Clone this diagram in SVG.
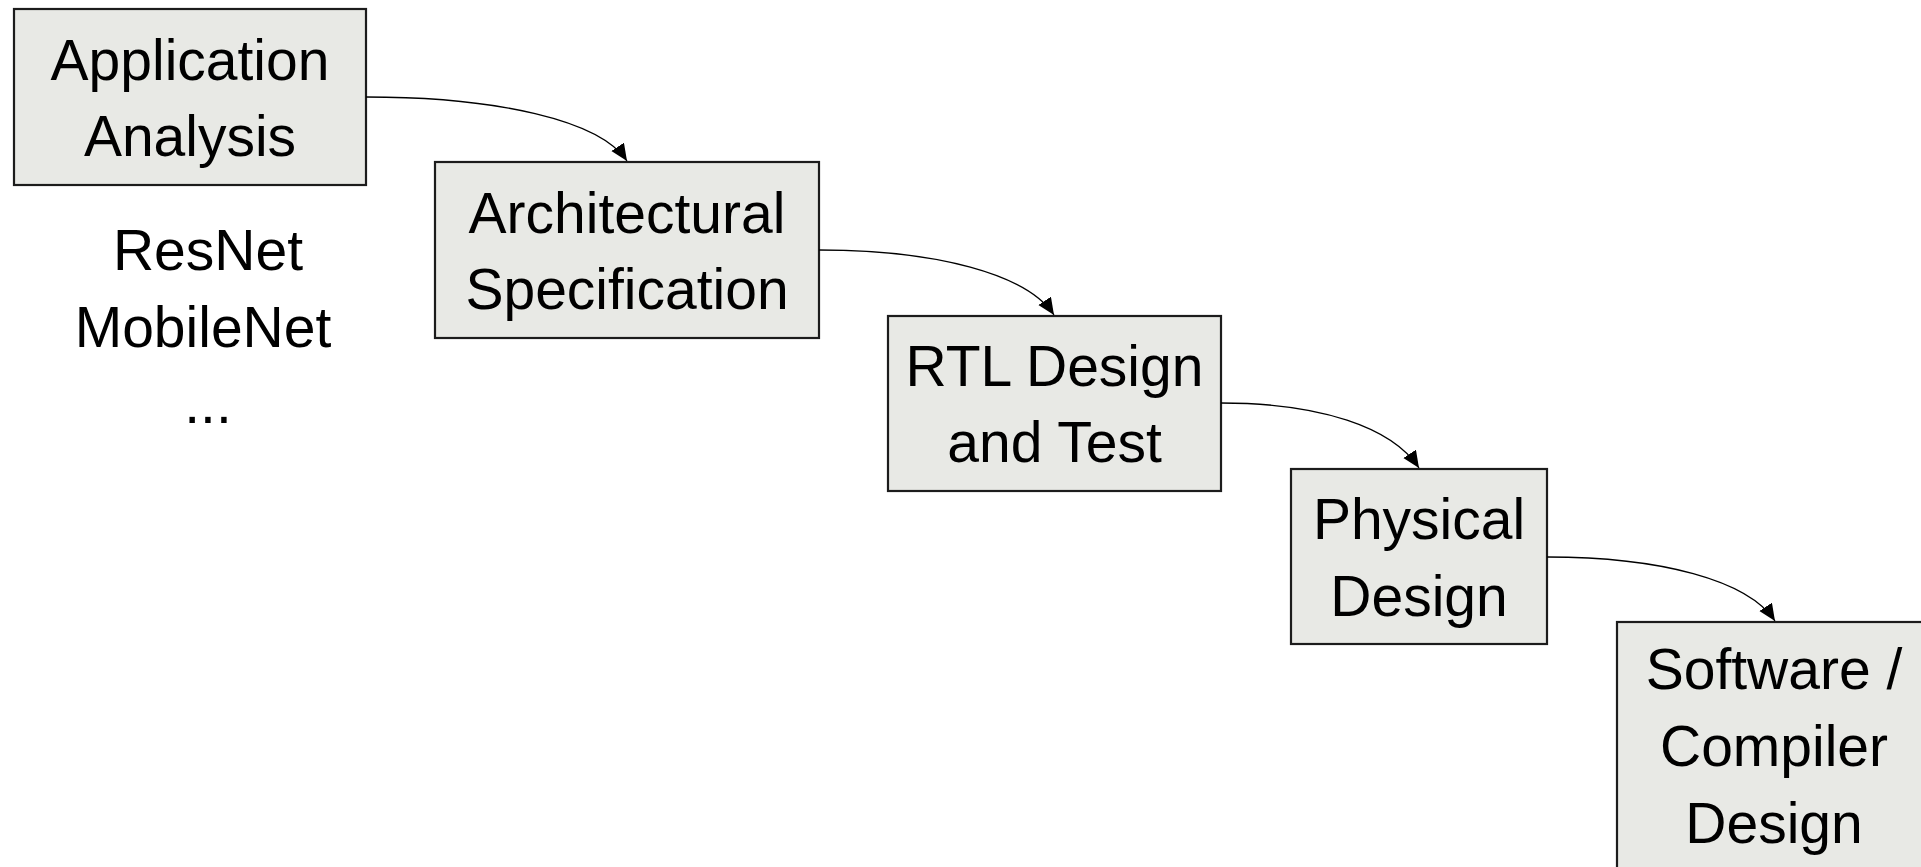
<svg xmlns="http://www.w3.org/2000/svg" width="1921" height="867" viewBox="0 0 1921 867">
  <style>
    .box { fill: #e8e9e5; stroke: #1c1c1c; stroke-width: 2.2; }
    .lbl { font-family: "Liberation Sans", Arial, sans-serif; font-size: 57px; fill: #000; text-anchor: middle; }
    .edge { fill: none; stroke: #000; stroke-width: 1.3; marker-end: url(#arrow); }
  </style>
  <defs>
    <marker id="arrow" markerUnits="userSpaceOnUse" markerWidth="18" markerHeight="16" refX="17" refY="7.5" orient="auto">
      <path d="M0,0 L17,7.5 L0,15 z" fill="#000"/>
    </marker>
  </defs>

  <rect width="1921" height="867" fill="#fff"/>

  <!-- design flow stages -->
  <g id="app-analysis">
    <rect class="box" x="14" y="9" width="352" height="176"/>
    <text class="lbl" x="190" y="80">Application</text>
    <text class="lbl" x="190" y="156">Analysis</text>
  </g>

  <g id="workloads">
    <text class="lbl" x="208" y="270">ResNet</text>
    <text class="lbl" x="203" y="347">MobileNet</text>
    <text class="lbl" x="208" y="423" font-size="60">...</text>
  </g>

  <g id="arch-spec">
    <rect class="box" x="435" y="162" width="384" height="176"/>
    <text class="lbl" x="627" y="233">Architectural</text>
    <text class="lbl" x="627" y="309">Specification</text>
  </g>

  <g id="rtl-design">
    <rect class="box" x="888" y="316" width="333" height="175"/>
    <text class="lbl" x="1054.5" y="386">RTL Design</text>
    <text class="lbl" x="1054.5" y="462">and Test</text>
  </g>

  <g id="physical-design">
    <rect class="box" x="1291" y="469" width="256" height="175"/>
    <text class="lbl" x="1419" y="539">Physical</text>
    <text class="lbl" x="1419" y="616">Design</text>
  </g>

  <g id="software-design">
    <rect class="box" x="1617" y="622" width="314" height="260"/>
    <text class="lbl" x="1774" y="689">Software /</text>
    <text class="lbl" x="1774" y="766">Compiler</text>
    <text class="lbl" x="1774" y="843">Design</text>
  </g>

  <!-- stage-to-stage connectors: leave right side, enter top centre -->
  <g id="connectors">
    <path class="edge" d="M366,97 C496,97 600,120 627,161"/>
    <path class="edge" d="M819,250 C936,250 1027,274 1054,315"/>
    <path class="edge" d="M1221,403 C1320,403 1392,427 1419,468"/>
    <path class="edge" d="M1547,557 C1660,557 1748,580 1775,621"/>
  </g>
</svg>
